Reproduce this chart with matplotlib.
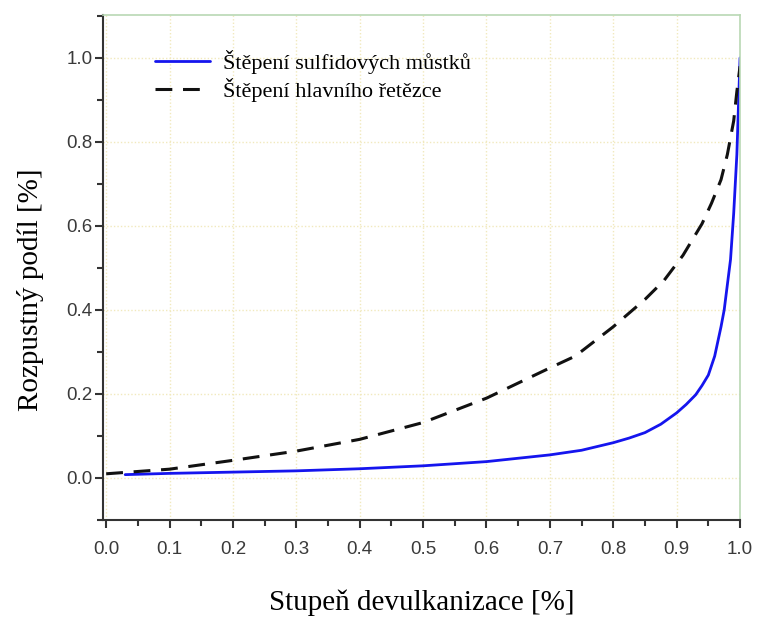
import matplotlib
matplotlib.use("Agg")
import matplotlib.pyplot as plt
from matplotlib.ticker import MultipleLocator

# Degree of devulcanization vs. soluble fraction
x_sulfide = [0.03, 0.1, 0.2, 0.3, 0.4, 0.5, 0.6, 0.7, 0.75, 0.8, 0.825, 0.85,
             0.875, 0.9, 0.915, 0.93, 0.94, 0.95, 0.96, 0.97, 0.975, 0.98,
             0.985, 0.99, 0.995, 1.0]
y_sulfide = [0.008, 0.011, 0.014, 0.017, 0.022, 0.029, 0.039, 0.055, 0.066,
             0.084, 0.095, 0.108, 0.128, 0.155, 0.175, 0.198, 0.22, 0.245,
             0.29, 0.36, 0.40, 0.46, 0.52, 0.63, 0.77, 1.0]

x_main = [0.0, 0.1, 0.2, 0.3, 0.4, 0.5, 0.6, 0.7, 0.74, 0.8, 0.85, 0.88, 0.91,
          0.94, 0.955, 0.97, 0.98, 0.99, 0.995, 1.0]
y_main = [0.01, 0.021, 0.042, 0.064, 0.092, 0.132, 0.19, 0.262, 0.29, 0.36,
          0.425, 0.47, 0.53, 0.605, 0.654, 0.71, 0.77, 0.85, 0.92, 0.98]

labels = ["Štěpení sulfidových můstků", "Štěpení hlavního řetězce"]
xlabel = "Stupeň devulkanizace [%]"
ylabel = "Rozpustný podíl [%]"

fig = plt.figure(figsize=(7.58, 6.17), dpi=100)
ax = fig.add_axes([0.1359, 0.1572, 0.8404, 0.8185])

ax.plot(x_sulfide, y_sulfide, color="#1515ee", lw=2.0, label=labels[0],
        solid_capstyle="round", solid_joinstyle="round")
ax.plot(x_main, y_main, color="#111111", lw=2.2, ls=(0, (5.5, 3.5)),
        label=labels[1])

ax.set_xlim(-0.005, 1.0)
ax.set_ylim(-0.1, 1.102)

ax.xaxis.set_minor_locator(MultipleLocator(0.05))
ax.yaxis.set_minor_locator(MultipleLocator(0.1))
ax.set_xticks([i / 10 for i in range(11)])
ax.set_xticklabels([f"{i / 10:.1f}" for i in range(11)])
ax.set_yticks([i / 5 for i in range(6)])
ax.set_yticklabels([f"{i / 5:.1f}" for i in range(6)])

ax.grid(True, which="major", color="#f1e9bd", lw=1.0, ls=(0, (1, 1.5)))
ax.set_axisbelow(True)

for side in ("top", "right"):
    ax.spines[side].set_color("#b9d8b4")
    ax.spines[side].set_linewidth(1.2)
for side in ("left", "bottom"):
    ax.spines[side].set_color("#333333")
    ax.spines[side].set_linewidth(1.5)

ax.tick_params(which="both", top=False, right=False, direction="out",
               colors="#333333", width=1.5)
ax.tick_params(which="major", length=6)
ax.tick_params(axis="y", which="major", pad=1.5)
ax.tick_params(axis="x", which="major", pad=9)
ax.tick_params(which="minor", length=4)
for lab in ax.get_xticklabels() + ax.get_yticklabels():
    lab.set_fontfamily("Liberation Sans")
    lab.set_fontsize(13.5)
    lab.set_color("#3a3a3a")

ax.set_xlabel(xlabel, family="Liberation Serif", fontsize=21, labelpad=22.5)
ax.set_ylabel(ylabel, family="Liberation Serif", fontsize=21)
ax.yaxis.set_label_coords(-0.092, 0.455)

leg = ax.legend(loc="upper left", bbox_to_anchor=(0.05, 0.971), frameon=False,
                prop={"family": "Liberation Serif", "size": 16},
                handlelength=2.5, handletextpad=0.55, labelspacing=0.2)

fig.savefig("out.png", dpi=100)
